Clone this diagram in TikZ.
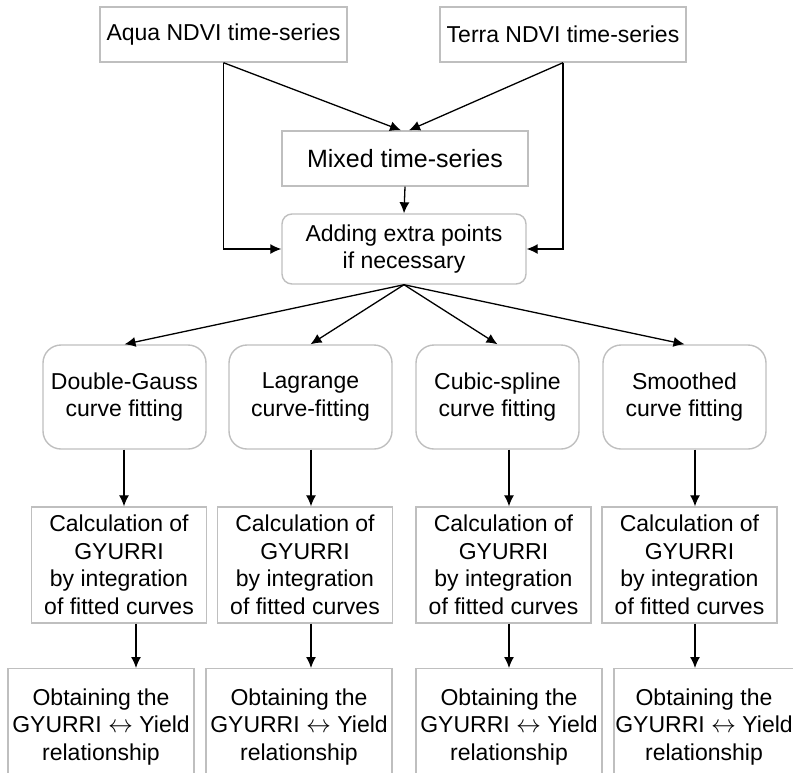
\documentclass[tikz,border=0pt]{standalone}
\usepackage{fontspec}
\setmainfont{Liberation Sans}
\usetikzlibrary{arrows.meta}
\tikzstyle{plainbox} = [draw=black!25, line width=1.4pt, rectangle, align=center,
    inner sep=0pt, font=\fontsize{23}{27.5}\selectfont]
\tikzstyle{roundbox} = [plainbox, rounded corners=18pt]
\tikzstyle{fitbox} = [roundbox, minimum width=163pt, minimum height=104pt]
\tikzstyle{calcbox} = [plainbox, minimum width=175pt, minimum height=116pt]
\tikzstyle{resbox} = [plainbox, minimum width=186pt, minimum height=116pt]
\tikzstyle{link} = [draw=black, line width=1.3pt, -{Latex[length=11pt,width=10pt]}]

\begin{document}
\begin{tikzpicture}[x=1pt,y=-1pt]
                \useasboundingbox (0,0) rectangle (793,772);
                % sources
                \node [plainbox, minimum width=247pt, minimum height=55pt] (aqua) at (223.5,34.5) {Aqua NDVI time-series};
                \node [plainbox, minimum width=246pt, minimum height=55pt] (terra) at (563,34.5) {Terra NDVI time-series};
                \node [plainbox, minimum width=246pt, minimum height=55pt, font=\fontsize{25}{30}\selectfont] (mixed) at (405,158.5) {Mixed time-series};
                \node [roundbox, rounded corners=10pt, minimum width=244pt, minimum height=70pt] (adding) at (404,249) {Adding extra points\\ if necessary};
                % fitting methods
                \node [fitbox] (fitA) at (124.5,397) {Double-Gauss\\ curve fitting};
                \node [fitbox] (fitB) at (310.5,397) {Lagrange\\ curve-fitting};
                \node [fitbox] (fitC) at (497.5,397) {Cubic-spline\\ curve fitting};
                \node [fitbox] (fitD) at (684.5,397) {Smoothed\\ curve fitting};
                % integration
                \node [calcbox] (calcA) at (119,565) {Calculation of\\ GYURRI\\ by integration\\ of fitted curves};
                \node [calcbox] (calcB) at (305,565) {Calculation of\\ GYURRI\\ by integration\\ of fitted curves};
                \node [calcbox] (calcC) at (503.5,565) {Calculation of\\ GYURRI\\ by integration\\ of fitted curves};
                \node [calcbox] (calcD) at (689.5,565) {Calculation of\\ GYURRI\\ by integration\\ of fitted curves};
                % relationships
                \node [resbox, anchor=north] (resA) at (101,668) {Obtaining the\\ GYURRI $\leftrightarrow$ Yield\\ relationship};
                \node [resbox, anchor=north] (resB) at (299,668) {Obtaining the\\ GYURRI $\leftrightarrow$ Yield\\ relationship};
                \node [resbox, anchor=north] (resC) at (509,668) {Obtaining the\\ GYURRI $\leftrightarrow$ Yield\\ relationship};
                \node [resbox, anchor=north, minimum width=180pt] (resD) at (704,668) {Obtaining the\\ GYURRI $\leftrightarrow$ Yield\\ relationship};
                % column lines
                \coordinate (colA) at (124,0);
                \coordinate (colB) at (311,0);
                \coordinate (colC) at (509,0);
                \coordinate (colD) at (695,0);
                \coordinate (colA2) at (136,0);
                % connectors
                \draw [link] (aqua.south) -- ([xshift=-4pt]mixed.north);
                \draw [link] (terra.south) -- ([xshift=4pt]mixed.north);
                \draw [link] (aqua.south) -- (aqua.south |- adding.west) -- (adding.west);
                \draw [link] (terra.south) -- (terra.south |- adding.east) -- (adding.east);
                \draw [link] (mixed.south) -- (adding.north);
                \foreach \f in {fitA,fitB,fitC,fitD}
                    \draw [link] (adding.south) -- (\f.north);
                \draw [link] (colA |- fitA.south) -- (colA |- calcA.north);
                \draw [link] (colB |- fitB.south) -- (colB |- calcB.north);
                \draw [link] (colC |- fitC.south) -- (colC |- calcC.north);
                \draw [link] (colD |- fitD.south) -- (colD |- calcD.north);
                \draw [link] (colA2 |- calcA.south) -- (colA2 |- resA.north);
                \draw [link] (colB |- calcB.south) -- (colB |- resB.north);
                \draw [link] (colC |- calcC.south) -- (colC |- resC.north);
                \draw [link] (colD |- calcD.south) -- (colD |- resD.north);
            \end{tikzpicture}
\end{document}
